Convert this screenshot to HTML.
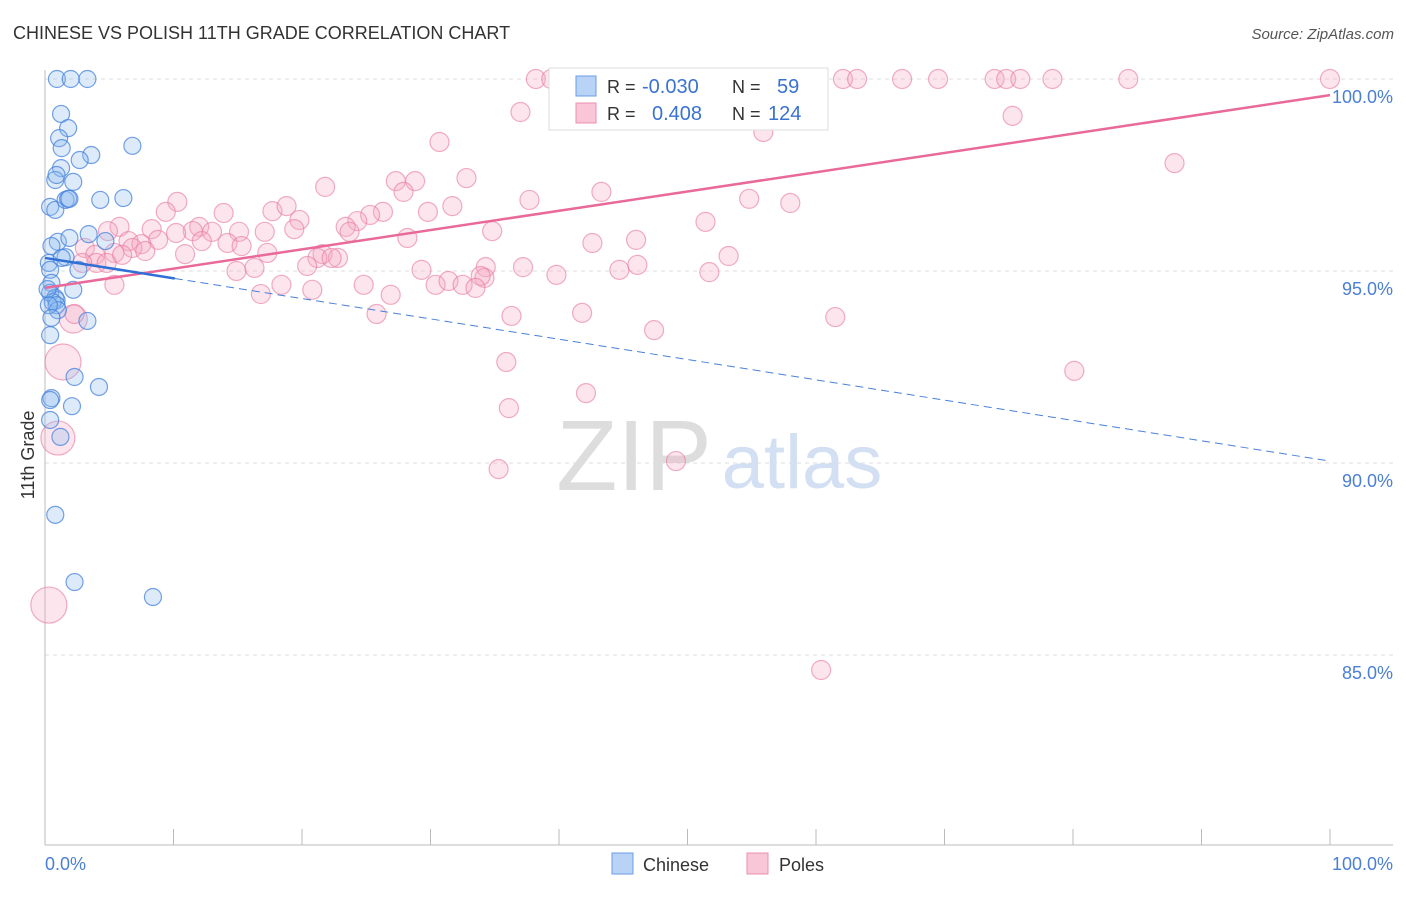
<!DOCTYPE html>
<html><head><meta charset="utf-8"><style>
body{margin:0;background:#fff;font-family:"Liberation Sans",sans-serif}
svg text{font-family:"Liberation Sans",sans-serif}
</style></head><body>
<svg id="chart" width="1406" height="892" xmlns="http://www.w3.org/2000/svg">
<text x="13" y="39" font-size="18" fill="#333">CHINESE VS POLISH 11TH GRADE CORRELATION CHART</text>
<text x="1394" y="39" font-size="15" fill="#555" text-anchor="end" font-style="italic">Source: ZipAtlas.com</text>
<g id="grid"></g>
<g><text x="634" y="490" font-size="100" fill="#ddd" text-anchor="middle" font-family="Liberation Serif">ZIP</text><text x="802" y="488" font-size="76" fill="#d3dff2" text-anchor="middle">atlas</text></g>
<g id="pts"></g>
<g id="lines"></g>
<text transform="translate(34,455) rotate(-90)" font-size="18" fill="#333" text-anchor="middle">11th Grade</text>
<text x="45" y="870" font-size="18" fill="#4a7fd4">0.0%</text>
<text x="1393" y="870" font-size="18" fill="#4a7fd4" text-anchor="end">100.0%</text>
<g>
<rect x="549" y="68" width="279" height="62" fill="#fff" stroke="#ddd"/>
<rect x="576" y="76" width="20" height="20" fill="#b8d3f5" stroke="#6a9ee6"/>
<rect x="576" y="103" width="20" height="20" fill="#f8c6d6" stroke="#ec8fae"/>
<text x="607" y="93" font-size="18" fill="#333">R =</text><text x="642" y="93" font-size="20" fill="#3a72d0">-0.030</text>
<text x="732" y="93" font-size="18" fill="#333">N =</text><text x="777" y="93" font-size="20" fill="#3a72d0">59</text>
<text x="607" y="120" font-size="18" fill="#333">R =</text><text x="652" y="120" font-size="20" fill="#3a72d0">0.408</text>
<text x="732" y="120" font-size="18" fill="#333">N =</text><text x="768" y="120" font-size="20" fill="#3a72d0">124</text>
</g>
<g>
<rect x="612" y="853" width="21" height="21" fill="#b8d3f5" stroke="#6a9ee6"/>
<text x="643" y="871" font-size="18" fill="#333">Chinese</text>
<rect x="747" y="853" width="21" height="21" fill="#f8c6d6" stroke="#ec8fae"/>
<text x="779" y="871" font-size="18" fill="#333">Poles</text>
</g>
</svg>
<script>
const blueX=[0.93,2.0,3.3,1.25,1.8,1.1,1.3,6.8,3.6,2.7,1.25,2.2,0.8,0.9,0.4,0.8,1.6,1.8,1.9,4.3,6.1,3.4,1.0,1.9,4.7,0.5,1.6,0.3,0.4,2.6,0.5,2.2,0.4,0.8,0.9,0.6,0.9,1.0,3.3,0.4,2.3,4.2,0.5,0.4,2.1,0.4,1.2,0.8,2.3,8.4,0.3,0.5,0.2,1.3];
const blueY=[100,100,100,99.09,98.72,98.46,98.2,98.26,98.02,97.89,97.68,97.32,97.37,97.5,96.67,96.59,96.85,96.88,96.88,96.85,96.9,95.96,95.76,95.86,95.78,95.65,95.36,95.21,95.03,95.03,94.69,94.51,94.43,94.3,94.24,94.19,94.11,93.98,93.7,93.33,92.24,91.98,91.69,91.64,91.48,91.12,90.68,88.65,86.9,86.51,94.11,93.78,94.53,95.34];
const pinkX=[38.2,39.4,41.5,46.5,47.5,48.8,50.0,53.8,54.4,62.1,63.2,66.7,69.5,73.9,74.8,75.9,78.4,84.3,100,44.7,37.0,40.3,42.5,75.3,55.9,30.7,87.9,32.8,27.3,28.8,21.8,27.9,43.3,10.3,37.7,54.8,58.0,9.4,13.9,17.7,18.8,19.8,29.8,31.7,26.3,25.3,24.3,51.4,5.8,4.9,8.3,12.0,11.5,13.0,15.1,17.1,19.4,23.4,23.7,34.8,8.8,10.2,6.5,7.5,6.8,7.8,12.2,14.2,15.3,28.2,42.6,46.0,3.1,3.9,4.0,5.4,10.9,17.3,21.6,21.2,22.8,22.3,53.2,2.9,4.8,6.0,14.9,16.3,20.4,29.3,34.3,37.2,39.8,44.7,46.1,51.7,34.2,33.9,5.4,18.4,20.8,24.8,26.9,30.4,31.4,32.5,33.5,16.8,25.8,36.3,41.8,47.4,61.5,2.2,2.3,1.4,35.9,80.1,42.1,36.1,1.0,35.3,49.1,0.3,60.4];
const pinkY=[100,100,100,100,100,100,100,100,100,100,100,100,100,100,100,100,100,100,100,100,99.14,99.53,99.14,99.04,98.62,98.36,97.81,97.42,97.34,97.34,97.19,97.06,97.06,96.8,96.85,96.88,96.77,96.54,96.51,96.56,96.69,96.33,96.54,96.69,96.54,96.46,96.3,96.28,96.15,96.04,96.09,96.15,96.04,96.02,96.02,96.02,96.09,96.15,96.02,96.04,95.81,95.99,95.78,95.7,95.6,95.52,95.78,95.73,95.65,95.86,95.73,95.81,95.6,95.42,95.21,95.47,95.44,95.47,95.44,95.34,95.34,95.34,95.39,95.21,95.21,95.42,95.0,95.08,95.13,95.03,95.1,95.1,94.9,95.03,95.16,94.97,94.82,94.87,94.64,94.64,94.51,94.64,94.38,94.64,94.74,94.64,94.56,94.4,93.88,93.83,93.91,93.46,93.8,93.75,93.88,92.63,92.63,92.4,91.82,91.43,90.65,89.84,90.05,86.3,84.61];
const pinkSize=[];pinkSize[113]=14;pinkSize[115]=18;pinkSize[120]=17;pinkSize[123]=18;
const yTicks=[100,95,90,85];
const yTickLabels=["100.0%","95.0%","90.0%","85.0%"];
const pinkLine=[94.56,99.58];
const blueLine=[95.34,90.05];
const blueSolidEnd=10.1;

const X0=45,X1=1330,Y100=79,PPU=38.4;
const sx=v=>X0+(X1-X0)*v/100;
const sy=v=>Y100+(100-v)*PPU;
const NS="http://www.w3.org/2000/svg";
function mk(tag,attrs,parent){const e=document.createElementNS(NS,tag);for(const k in attrs)e.setAttribute(k,attrs[k]);parent.appendChild(e);return e;}
const grid=document.getElementById('grid');
yTicks.forEach((t,i)=>{
 const l=mk('line',{x1:45,x2:1393,y1:sy(t),y2:sy(t),stroke:'#ddd','stroke-dasharray':'4,4'},grid);
 
 
 const tx=mk('text',{x:1393,y:sy(t)+24,'font-size':18,fill:'#4a7fd4','text-anchor':'end'},grid);
 tx.textContent=yTickLabels[i];
 
 
});
const ax=mk('line',{x1:45,x2:1393,y1:845,y2:845,stroke:'#bbb'},grid);


const ay=mk('line',{x1:45,x2:45,y1:70,y2:845,stroke:'#bbb'},grid);


for(let i=0;i<=10;i++){
 const t=mk('line',{x1:sx(i*10),x2:sx(i*10),y1:829,y2:845,stroke:'#bbb'},grid);
 
 
}
const pts=document.getElementById('pts');
pinkX.forEach((x,i)=>{
 const c=mk('circle',{cx:sx(x),cy:sy(pinkY[i]),r:pinkSize[i]||9.5,fill:'rgba(246,170,195,0.3)',stroke:'rgba(232,120,160,0.6)','stroke-width':1.2},pts);
 
 
});
blueX.forEach((x,i)=>{
 const c=mk('circle',{cx:sx(x),cy:sy(blueY[i]),r:8.5,fill:'rgba(140,185,240,0.3)',stroke:'rgba(70,130,220,0.75)','stroke-width':1.2},pts);
 
 
});
const lines=document.getElementById('lines');
const pl=mk('line',{x1:sx(0),y1:sy(pinkLine[0]),x2:sx(100),y2:sy(pinkLine[1]),stroke:'#e8699a','stroke-width':2.5},lines);


const by=x=>blueLine[0]+(blueLine[1]-blueLine[0])*x/100;
const bs=mk('line',{x1:sx(0),y1:sy(by(0)),x2:sx(blueSolidEnd),y2:sy(by(blueSolidEnd)),stroke:'#2f6fd6','stroke-width':2.5},lines);


const bd=mk('line',{x1:sx(blueSolidEnd),y1:sy(by(blueSolidEnd)),x2:sx(100),y2:sy(by(100)),stroke:'#4a80d8','stroke-width':1,'stroke-dasharray':'8,5'},lines);


</script>
</body></html>
